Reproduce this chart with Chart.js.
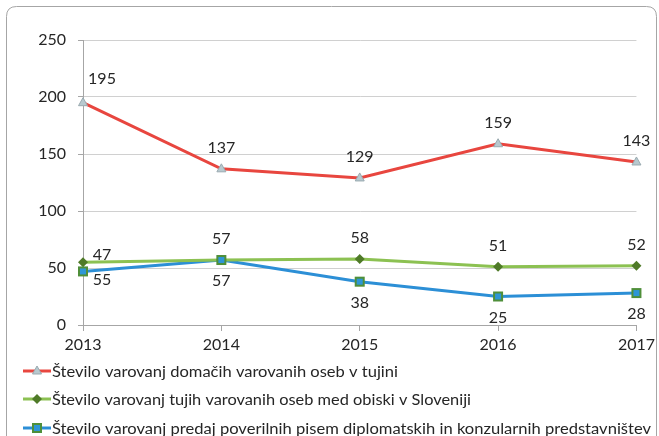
<!DOCTYPE html>
<html>
<head>
<meta charset="utf-8">
<script src="https://cdn.jsdelivr.net/npm/chart.js@4/dist/chart.umd.min.js"></script>
<style>
html,body{margin:0;padding:0;background:#fff;}
#wrap{width:659px;height:436px;position:relative;}
</style>
</head>
<body>
<div id="wrap"><canvas id="c" width="659" height="436"></canvas></div>
<script>
const years = ['2013','2014','2015','2016','2017'];
const domestic = [195, 137, 129, 159, 143];
const foreign = [55, 57, 58, 51, 52];
const credentials = [47, 57, 38, 25, 28];
// data labels as printed in the original chart
const domesticLabels = [195, 137, 129, 159, 143];
const foreignLabels = [47, 57, 58, 51, 52];
const credentialsLabels = [55, 57, 38, 25, 28];
const seriesNames = [
  'Število varovanj domačih varovanih oseb v tujini',
  'Število varovanj tujih varovanih oseb med obiski v Sloveniji',
  'Število varovanj predaj poverilnih pisem diplomatskih in konzularnih predstavništev'
];
const yTicks = [0, 50, 100, 150, 200, 250];

const FONT = 'Lato';
const TXT = '#262626';

const frame = {
  id: 'frame',
  beforeDraw(chart) {
    const ctx = chart.ctx;
    ctx.save();
    ctx.fillStyle = '#fff';
    ctx.fillRect(0, 0, chart.width, chart.height);
    ctx.strokeStyle = '#a6a6a6';
    ctx.lineWidth = 1;
    const x = 6.5, y = 6.5, w = 650, h = 470, r = 10;
    ctx.beginPath();
    ctx.moveTo(x + r, y);
    ctx.lineTo(x + w - r, y);
    ctx.quadraticCurveTo(x + w, y, x + w, y + r);
    ctx.lineTo(x + w, y + h);
    ctx.moveTo(x, y + h);
    ctx.lineTo(x, y + r);
    ctx.quadraticCurveTo(x, y, x + r, y);
    ctx.stroke();
    ctx.restore();
  }
};

const valueLabels = {
  id: 'valueLabels',
  afterDatasetsDraw(chart) {
    const ctx = chart.ctx;
    ctx.save();
    ctx.font = '16px ' + FONT;
    ctx.fillStyle = TXT;
    ctx.textAlign = 'center';
    ctx.textBaseline = 'middle';
    chart.data.datasets.forEach((ds, di) => {
      const meta = chart.getDatasetMeta(di);
      meta.data.forEach((pt, i) => {
        let dx = 0, dy = ds.labelDy;
        if (i === 0) { dx = 19; dy = ds.firstDy; }
        ctx.fillText(String(ds.labels[i]), pt.x + dx, pt.y + dy);
      });
    });
    ctx.restore();
  }
};

function drawMarker(ctx, style, x, y) {
  ctx.save();
  if (style === 'tri') {
    ctx.fillStyle = '#b7c9cf';
    ctx.strokeStyle = '#9aaab0';
    ctx.lineWidth = 1;
    ctx.beginPath();
    ctx.moveTo(x, y - 5);
    ctx.lineTo(x + 4.5, y + 3);
    ctx.lineTo(x - 4.5, y + 3);
    ctx.closePath();
    ctx.fill(); ctx.stroke();
  } else if (style === 'dia') {
    ctx.fillStyle = '#4f7a28';
    ctx.beginPath();
    ctx.moveTo(x, y - 5);
    ctx.lineTo(x + 5, y);
    ctx.lineTo(x, y + 5);
    ctx.lineTo(x - 5, y);
    ctx.closePath();
    ctx.fill();
  } else {
    ctx.fillStyle = '#4f8f3a';
    ctx.fillRect(x - 5, y - 5, 10, 10);
    ctx.fillStyle = '#2e96d6';
    ctx.fillRect(x - 3, y - 3, 6, 6);
  }
  ctx.restore();
}

const markers = {
  id: 'markers',
  afterDatasetsDraw(chart) {
    const ctx = chart.ctx;
    chart.data.datasets.forEach((ds, di) => {
      chart.getDatasetMeta(di).data.forEach(pt => drawMarker(ctx, ds.marker, pt.x, pt.y));
    });
  }
};

const legendRows = {
  id: 'legendRows',
  afterDraw(chart) {
    const ctx = chart.ctx;
    ctx.save();
    ctx.font = '15px ' + FONT;
    ctx.textBaseline = 'middle';
    ctx.textAlign = 'left';
    const rows = [371, 399, 428];
    const widths = [346, 419, 599];
    chart.data.datasets.forEach((ds, di) => {
      const y = rows[di];
      ctx.strokeStyle = ds.borderColor;
      ctx.lineWidth = 3;
      ctx.beginPath();
      ctx.moveTo(23, y);
      ctx.lineTo(51, y);
      ctx.stroke();
      drawMarker(ctx, ds.marker, 37, y);
      ctx.save();
      ctx.fillStyle = TXT;
      const m = ctx.measureText(ds.label).width;
      ctx.translate(52, y + 1);
      ctx.scale(widths[di] / m, 1);
      ctx.fillText(ds.label, 0, 0);
      ctx.restore();
    });
    ctx.restore();
  }
};

new Chart(document.getElementById('c'), {
  type: 'line',
  data: {
    labels: years,
    datasets: [
      { label: seriesNames[0], data: domestic, labels: domesticLabels, borderColor: '#e8463f', marker: 'tri', labelDy: -21, firstDy: -24 },
      { label: seriesNames[1], data: foreign, labels: foreignLabels, borderColor: '#8cc152', marker: 'dia', labelDy: -21, firstDy: -7 },
      { label: seriesNames[2], data: credentials, labels: credentialsLabels, borderColor: '#2c8fd6', marker: 'sq', labelDy: 21, firstDy: 8 }
    ].map(d => Object.assign(d, { borderWidth: 3, pointRadius: 0, pointHoverRadius: 0, tension: 0, fill: false }))
  },
  options: {
    responsive: false,
    animation: false,
    events: [],
    layout: { padding: { left: 0, right: 22, top: 40, bottom: 0 } },
    plugins: { legend: { display: false }, tooltip: { enabled: false } },
    scales: {
      x: {
        offset: false,
        grid: { display: true, drawOnChartArea: false, drawTicks: true, tickLength: 6, color: '#a6a6a6' },
        border: { color: '#a6a6a6' },
        ticks: { font: { family: FONT, size: 16 }, color: TXT, padding: 4, maxRotation: 0 },
        afterFit(s) { s.height = 111; }
      },
      y: {
        min: 0, max: 250,
        afterBuildTicks(s) { s.ticks = yTicks.map(v => ({ value: v })); },
        grid: { color: '#d0d0d0', tickLength: 5, tickColor: '#a6a6a6' },
        border: { color: '#a6a6a6' },
        ticks: { font: { family: FONT, size: 16 }, color: TXT, padding: 12 },
        afterFit(s) { s.width = 83; }
      }
    }
  },
  plugins: [frame, markers, valueLabels, legendRows]
});
</script>
</body>
</html>
